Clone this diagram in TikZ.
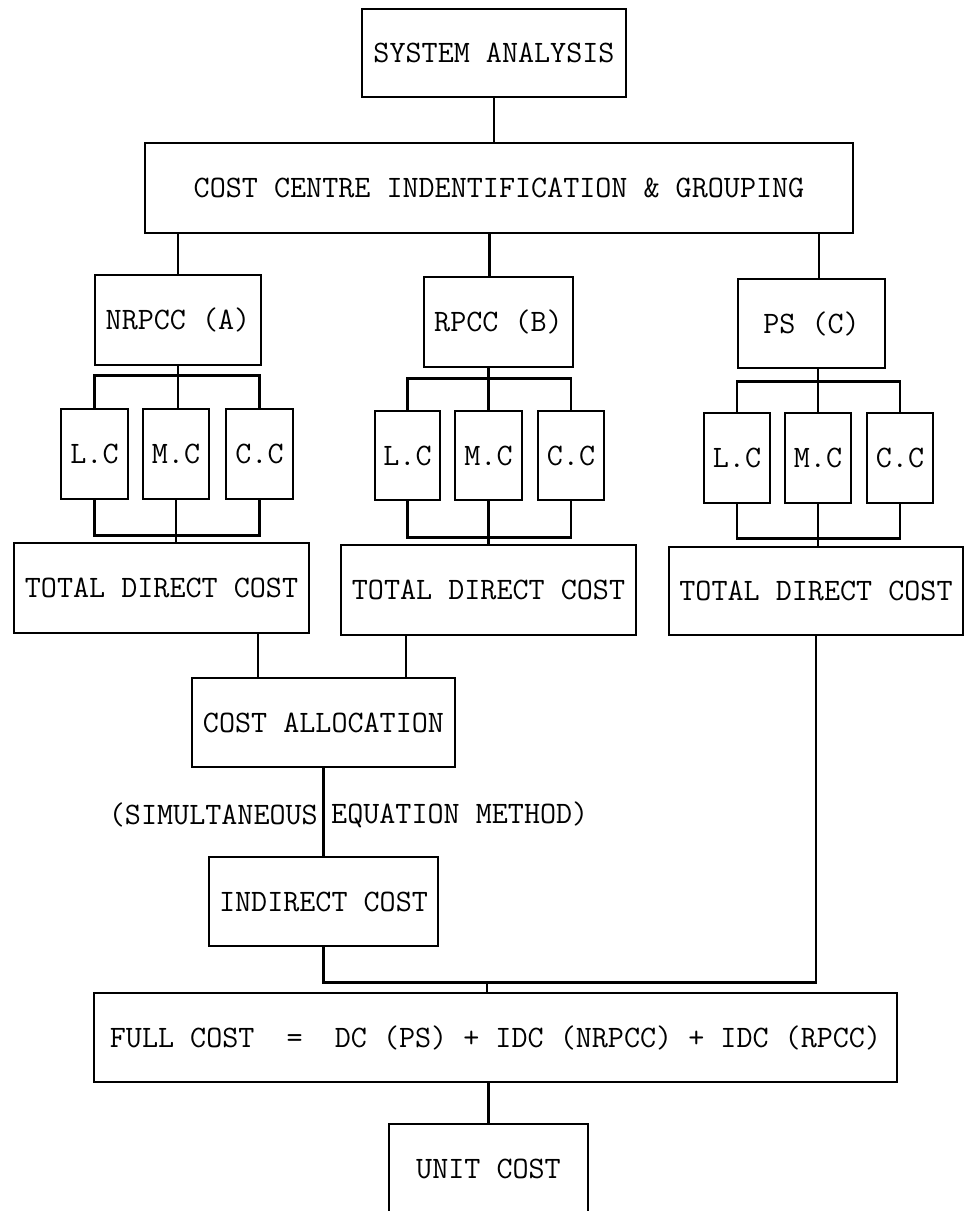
\documentclass[tikz,border=0pt]{standalone}
\usepackage{fontspec}
\usetikzlibrary{calc}
\newcommand{\twfont}{\ttfamily\fontsize{31.2}{36}\selectfont\addfontfeature{FakeBold=2}}
\tikzset{
  box/.style={draw, line width=2.7pt, inner sep=0pt, rectangle, font=\twfont},
  lab/.style={inner sep=0pt, font=\twfont},
  conn/.style={line width=2.7pt}
}
\begin{document}
\begin{tikzpicture}[x=1pt,y=-1pt]
\path[use as bounding box] (0,0) rectangle (964,1211);
\fill[white] (0,0) rectangle (964,1211);
\clip (0,0) rectangle (964,1211);
% top levels
\node[box, minimum width=264pt, minimum height=88pt] (sa) at (494,53) {SYSTEM ANALYSIS};
\node[box, minimum width=708pt, minimum height=90pt] (cc) at (499,188) {COST CENTRE INDENTIFICATION \& GROUPING};
\node[box, minimum width=166pt, minimum height=90pt] (a) at (178,320) {NRPCC (A)};
\node[box, minimum width=149pt, minimum height=90pt] (b) at (498.5,322) {RPCC (B)};
\node[box, minimum width=147pt, minimum height=89pt] (c) at (811.5,323.5) {PS (C)};
% sub boxes
\node[box, minimum width=67pt, minimum height=90pt] (a1) at (94.5,454) {L.C};
\node[box, minimum width=66pt, minimum height=90pt] (a2) at (176,454) {M.C};
\node[box, minimum width=67pt, minimum height=90pt] (a3) at (259.5,454) {C.C};
\node[box, minimum width=65pt, minimum height=89pt] (b1) at (407.5,455.5) {L.C};
\node[box, minimum width=67pt, minimum height=89pt] (b2) at (488.5,455.5) {M.C};
\node[box, minimum width=66pt, minimum height=89pt] (b3) at (571,455.5) {C.C};
\node[box, minimum width=66pt, minimum height=90pt] (c1) at (737,458) {L.C};
\node[box, minimum width=66pt, minimum height=90pt] (c2) at (818,458) {M.C};
\node[box, minimum width=66pt, minimum height=90pt] (c3) at (900,458) {C.C};
% totals
\node[box, minimum width=295pt, minimum height=90pt] (ta) at (161.5,588) {TOTAL DIRECT COST};
\node[box, minimum width=295pt, minimum height=90pt] (tb) at (488.5,590) {TOTAL DIRECT COST};
\node[box, minimum width=294pt, minimum height=88pt] (tc) at (816,591) {TOTAL DIRECT COST};
% lower chain
\node[box, minimum width=263pt, minimum height=89pt] (ca) at (323.5,722.5) {COST ALLOCATION};
\node[lab, anchor=east] (sim1) at (318,815) {(SIMULTANEOUS};
\node[lab, anchor=west] (sim2) at (331,815) {EQUATION METHOD)};
\node[box, minimum width=229pt, minimum height=89pt] (ic) at (323.5,901.5) {INDIRECT COST};
\node[box, minimum width=803pt, minimum height=89pt] (fc) at (495.5,1037.5) {FULL COST~~=~~DC (PS) + IDC (NRPCC) + IDC (RPCC)};
\node[box, minimum width=199pt, minimum height=89pt] (uc) at (488.5,1168.5) {UNIT COST};
% connectors
\draw[conn] (sa.south) -- (sa.south |- cc.north);
\draw[conn] (a.north) -- (a.north |- cc.south);
\coordinate (bx) at ($(b.north)+(-9,0)$);
\draw[conn] (bx) -- (bx |- cc.south);
\coordinate (cx) at ($(c.north)+(7.5,0)$);
\draw[conn] (cx) -- (cx |- cc.south);
% group A
\draw[conn] (a1.north) -- ++(0,-32) -| (a3.north);
\draw[conn] (a.south) -- (a.south |- a2.north);
\draw[conn] (a1.south) -- ++(0,35) -| (a3.south);
\draw[conn] (a2.south) -- (a2.south |- ta.north);
% group B
\draw[conn] (b1.north) -- ++(0,-31) -| (b3.north);
\draw[conn] (b2.north) -- (b2.north |- b.south);
\draw[conn] (b1.south) -- ++(0,36) -| (b3.south);
\draw[conn] (b2.south) -- (b2.south |- tb.north);
% group C
\draw[conn] (c1.north) -- ++(0,-30) -| (c3.north);
\draw[conn] (c2.north) -- (c2.north |- c.south);
\draw[conn] (c1.south) -- ++(0,34) -| (c3.south);
\draw[conn] (c2.south) -- (c2.south |- tc.north);
% totals to allocation
\coordinate (p1) at ($(ta.south)+(96.5,0)$);
\draw[conn] (p1) -- (p1 |- ca.north);
\coordinate (p2) at ($(tb.south)+(-82.5,0)$);
\draw[conn] (p2) -- (p2 |- ca.north);
\draw[conn] (ca.south) -- (ic.north);
% join to full cost
\coordinate (h) at ($(ic.south)+(0,35)$);
\draw[conn] (ic.south) -- (h) -| (tc.south);
\coordinate (fj) at ($(fc.north)+(-8.5,0)$);
\draw[conn] (fj) -- (fj |- h);
\draw[conn] (fc.south -| uc.north) -- (uc.north);
\end{tikzpicture}
\end{document}
